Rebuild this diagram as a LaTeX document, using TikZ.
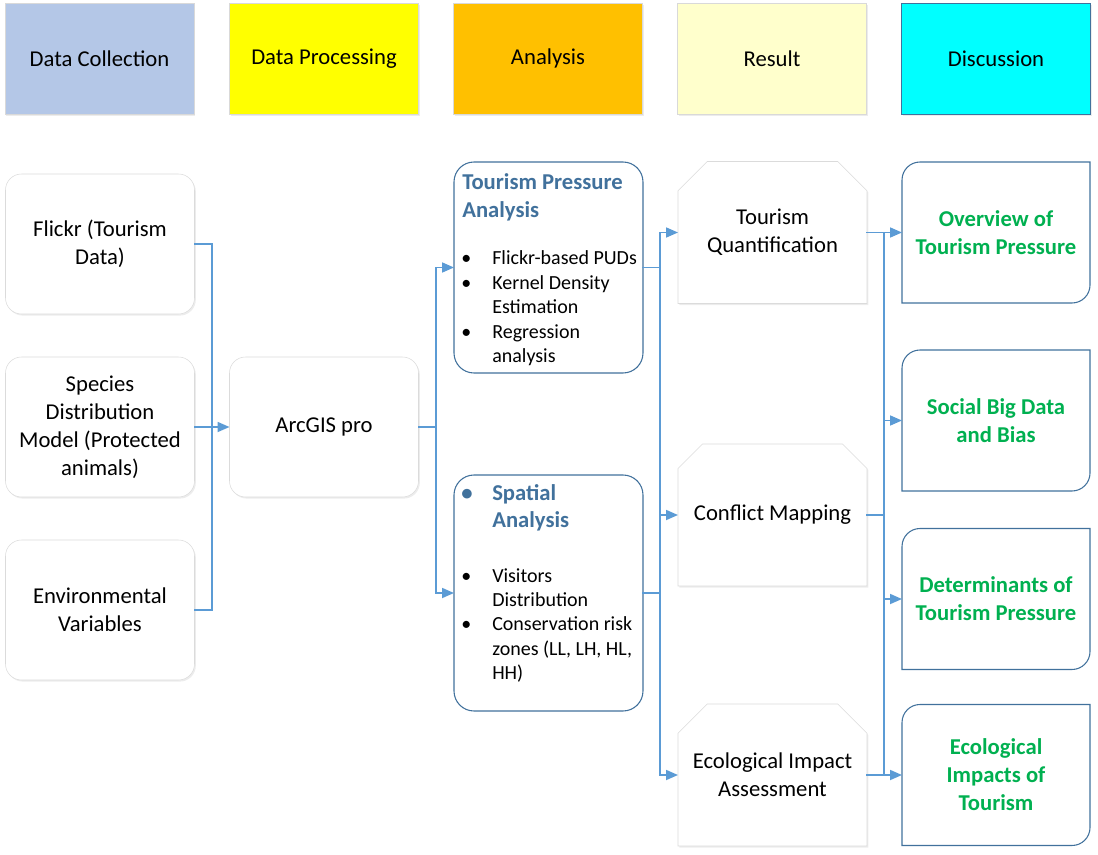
\documentclass[tikz,border=0pt]{standalone}
\usepackage{fontspec}
\setmainfont{Carlito}
\usepackage{tikz}
\usetikzlibrary{arrows.meta, positioning, shapes.misc, calc, shadows}

\definecolor{lienbleu}{HTML}{5B9BD5}
\definecolor{contour}{HTML}{41719C}
\definecolor{vert}{HTML}{00B050}
\definecolor{hdcollecte}{HTML}{B4C7E7}
\definecolor{hdtraitement}{HTML}{FFFF00}
\definecolor{hdanalyse}{HTML}{FFC000}
\definecolor{hdresultat}{HTML}{FFFFCC}
\definecolor{hddiscu}{HTML}{00FFFF}

\begin{document}
\begin{tikzpicture}[
  x=0.75pt, y=0.75pt,
  font=\fontsize{17}{21}\selectfont,
  ombre/.style={
    drop shadow={shadow xshift=1pt, shadow yshift=-1.2pt, opacity=0.15}
  },
  phase/.style={
    draw=black!15, minimum width=141.75pt, minimum height=83.25pt,
    inner sep=0pt, outer sep=0pt, ombre
  },
  entree/.style={
    rounded corners=12pt, draw=black!14, fill=white, align=center,
    minimum width=141.75pt, minimum height=105pt,
    inner sep=0pt, outer sep=0pt, ombre
  },
  bloc/.style={
    rounded corners=15pt, draw=contour, fill=white, line width=0.8pt,
    minimum width=141.75pt, inner sep=0pt, outer sep=0pt
  },
  titre/.style={
    font=\fontsize{17}{20.5}\selectfont\bfseries, text=contour,
    inner sep=0pt, anchor=base west
  },
  puces/.style={
    font=\fontsize{15}{18.3}\selectfont, inner sep=0pt, anchor=base west
  },
  resultat/.style={
    chamfered rectangle, chamfered rectangle corners={north west, north east},
    chamfered rectangle xsep=11pt, chamfered rectangle ysep=11pt,
    draw=black!14, fill=white, align=center,
    minimum width=141.75pt, minimum height=106.5pt,
    inner sep=0pt, outer sep=0pt, ombre
  },
  discu/.style={
    font=\fontsize{17}{21}\selectfont\bfseries, text=vert, align=center,
    minimum width=141pt, minimum height=105.75pt,
    inner sep=0pt, outer sep=0pt
  },
  cadrediscu/.style={draw=contour, line width=0.8pt},
  lien/.style={draw=lienbleu, line width=1.3pt, line cap=rect},
  fleche/.style={lien, -{Triangle[length=9pt, width=7.5pt]}}
]
\useasboundingbox (0,0) rectangle (1098,-855);

% ----- Phases -----
\node[phase, fill=hdcollecte]   (hcollecte)   at (99.5,-58.5) {Data Collection};
\node[phase, fill=hdtraitement] (htraitement) at (324,-58.5)  {Data Processing};
\node[phase, fill=hdanalyse]    (hanalyse)    at (548,-58.5)  {Analysis};
\node[phase, fill=hdresultat]   (hresultat)   at (772,-58.5)  {Result};
\node[phase, fill=hddiscu, draw=contour] (hdiscussion) at (996,-58.5) {Discussion};

% ----- Collecte et traitement -----
\node[entree] (flickr)  at (100,-244) {Flickr (Tourism\\Data)};
\node[entree] (especes) at (100,-427) {Species\\Distribution\\Model (Protected\\animals)};
\node[entree] (envir)   at (100,-610) {Environmental\\Variables};
\node[entree] (arcgis)  at (324,-427) {ArcGIS pro};

% ----- Analyses -----
\node[bloc, minimum height=158.25pt] (tpa)     at (548.5,-267.5) {};
\node[bloc, minimum height=177pt]    (spatial) at (548.5,-593) {};

\node[titre] (tpatitre) at (462,-190)
  {\begin{tabular}[t]{@{}l@{}}Tourism Pressure\\Analysis\end{tabular}};
\node[puces] (tpaliste) at (461,-265)
  {\begin{tabular}[t]{@{}p{23.25pt}@{}l@{}}
    \textbullet & Flickr-based PUDs\\
    \textbullet & Kernel Density\\
                & Estimation\\
    \textbullet & Regression\\
                & analysis
  \end{tabular}};

\node[titre] (satitre) at (461,-500)
  {\begin{tabular}[t]{@{}p{23.25pt}@{}l@{}}
    \textbullet & Spatial\\
                & Analysis
  \end{tabular}};
\node[puces] (saliste) at (461,-582)
  {\begin{tabular}[t]{@{}p{23.25pt}@{}l@{}}
    \textbullet & Visitors\\
                & Distribution\\
    \textbullet & Conservation risk\\
                & zones (LL, LH, HL,\\
                & HH)
  \end{tabular}};

% ----- Résultats -----
\node[resultat] (quantif)   at (772.5,-232.5) {Tourism\\Quantification};
\node[resultat] (conflit)   at (772.5,-515)   {Conflict Mapping};
\node[resultat] (ecoimpact) at (772.5,-775)   {Ecological Impact\\Assessment};

% ----- Discussion -----
\node[discu] (apercu)       at (996,-232.5) {Overview of\\Tourism Pressure};
\node[discu] (biais)        at (996,-420.5) {Social Big Data\\and Bias};
\node[discu] (determinants) at (996,-599)   {Determinants of\\Tourism Pressure};
\node[discu] (impacts)      at (996,-775)   {Ecological\\Impacts of\\Tourism};

\foreach \d in {apercu, biais, determinants, impacts}
  \draw[cadrediscu] (\d.north east) -- ($(\d.south east)+(0,18)$)
    arc[start angle=0, end angle=-90, radius=18] -- (\d.south west)
    -- ($(\d.north west)+(0,-18)$)
    arc[start angle=180, end angle=90, radius=18] -- cycle;

% ----- Liaisons -----
\coordinate (bus1) at (212,0);
\coordinate (bus2) at (436,0);
\coordinate (bus3) at (660,0);
\coordinate (bus4) at (884,0);

\draw[lien] (flickr.east) -- (flickr.east -| bus1) -- (envir.east -| bus1) -- (envir.east);
\draw[fleche] (especes) -- (arcgis);

\draw[lien] (arcgis.east) -- (arcgis.east -| bus2);
\draw[lien] (tpa.west -| bus2) -- (spatial.west -| bus2);
\draw[fleche] (tpa.west -| bus2) -- (tpa.west);
\draw[fleche] (spatial.west -| bus2) -- (spatial.west);

\draw[lien] (tpa.east) -- (tpa.east -| bus3);
\draw[lien] (spatial.east) -- (spatial.east -| bus3);
\draw[lien] (quantif.west -| bus3) -- (ecoimpact.west -| bus3);
\foreach \r in {quantif, conflit, ecoimpact}
  \draw[fleche] (\r.west -| bus3) -- (\r.west);

\foreach \r in {quantif, conflit, ecoimpact}
  \draw[lien] (\r.east) -- (\r.east -| bus4);
\draw[lien] (quantif.east -| bus4) -- (ecoimpact.east -| bus4);
\foreach \d in {apercu, biais, determinants, impacts}
  \draw[fleche] (\d.west -| bus4) -- (\d.west);

\end{tikzpicture}
\end{document}
